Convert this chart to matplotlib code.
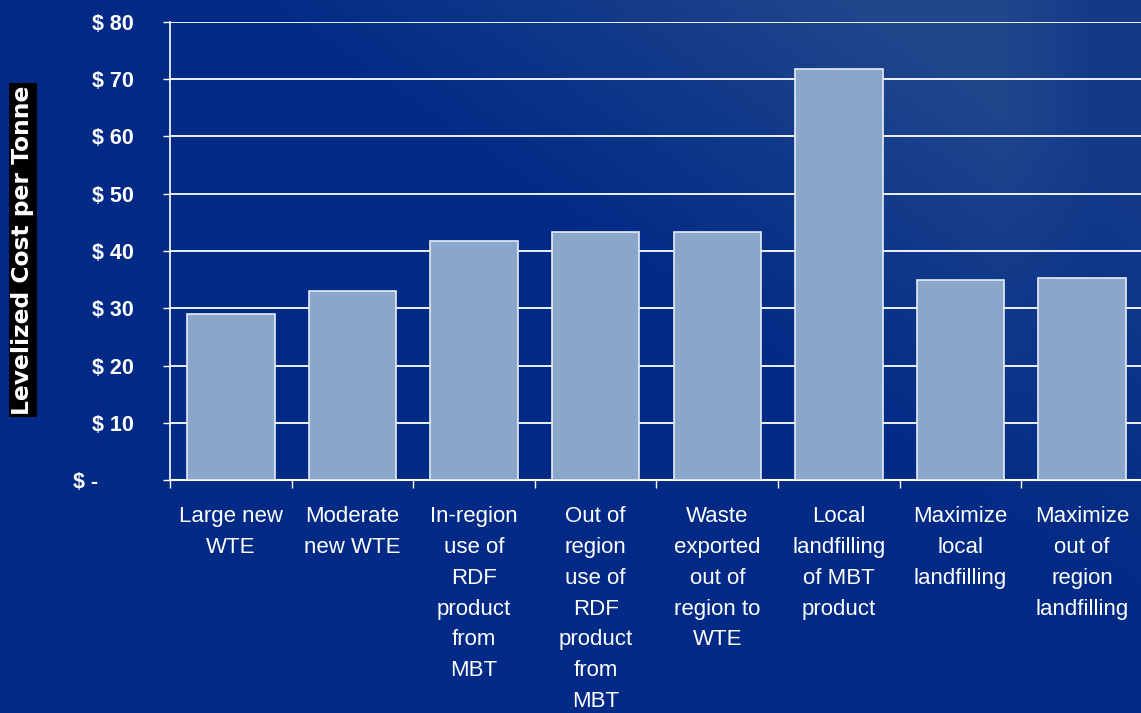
import numpy as np
import matplotlib
matplotlib.use("Agg")
import matplotlib.pyplot as plt

categories = [
    "Large new\nWTE",
    "Moderate\nnew WTE",
    "In-region\nuse of\nRDF\nproduct\nfrom\nMBT",
    "Out of\nregion\nuse of\nRDF\nproduct\nfrom\nMBT",
    "Waste\nexported\nout of\nregion to\nWTE",
    "Local\nlandfilling\nof MBT\nproduct",
    "Maximize\nlocal\nlandfilling",
    "Maximize\nout of\nregion\nlandfilling",
]
values = [29.0, 33.0, 41.7, 43.3, 43.3, 71.8, 34.9, 35.3]
yticks = [0, 10, 20, 30, 40, 50, 60, 70, 80]
ytick_labels = ["$ -      ", "$ 10", "$ 20", "$ 30", "$ 40", "$ 50", "$ 60", "$ 70", "$ 80"]

plt.rcParams['font.family'] = ['Liberation Sans', 'DejaVu Sans']

W, H = 1141, 713
fig = plt.figure(figsize=(W / 100, H / 100), dpi=100)

# background gradient
bg = fig.add_axes([0, 0, 1, 1], zorder=-10)
ny, nx = 200, 320
yy, xx = np.mgrid[0:1:ny * 1j, 0:1:nx * 1j]  # yy=0 top
base = np.array([0, 42, 134]) / 255.0
light = np.array([32, 70, 140]) / 255.0
w = np.clip((xx - 0.9 * yy - 0.2) / 0.55, 0, 1)
w = w * np.clip((1.08 - xx) / 0.2, 0.6, 1)
img = base[None, None, :] * (1 - w[..., None]) + light[None, None, :] * w[..., None]
bg.imshow(img, aspect='auto', extent=[0, 1, 0, 1], origin='upper')
bg.set_axis_off()

ax = fig.add_axes([170 / W, 1 - 480 / H, (1143 - 170) / W, (480 - 22) / H])
ax.set_facecolor('none')
x = np.arange(len(values))
ax.bar(x, values, width=0.72, color='#8BA6CB', edgecolor='#E6ECF4', linewidth=1.2, zorder=3)

ax.set_xlim(-0.5, len(values) - 0.5)
ax.set_ylim(0, 80)
ax.set_yticks(yticks)
ax.set_yticklabels(ytick_labels, color='white', fontsize=15.5, fontweight='bold')
ax.yaxis.grid(True, color='white', linewidth=1.3, zorder=1)
ax.set_axisbelow(True)

ax.set_xticks(np.arange(len(values) + 1) - 0.5, minor=False)
ax.set_xticklabels([])
ax.tick_params(axis='x', colors='white', length=6, width=1, direction='out')
ax.tick_params(axis='y', colors='white', length=5, width=1, direction='out', pad=21)

for i, lab in enumerate(categories):
    ax.text(i, -4.6, lab, ha='center', va='top', color='white', fontsize=16,
            linespacing=1.61, transform=ax.transData, clip_on=False)

for s in ['top', 'right']:
    ax.spines[s].set_visible(False)
ax.spines['left'].set_color('white')
ax.spines['bottom'].set_color('white')
ax.spines['bottom'].set_linewidth(1.5)
ax.spines['left'].set_linewidth(1.2)

fig.text(23 / W, 1 - 250 / H, "Levelized Cost per Tonne", rotation=90, ha='center', va='center',
         color='white', fontsize=16.8, fontweight='bold', family=['DejaVu Sans'],
         bbox=dict(boxstyle='square,pad=0.1', facecolor='black', edgecolor='none'))

fig.savefig("out.png", dpi=100)
